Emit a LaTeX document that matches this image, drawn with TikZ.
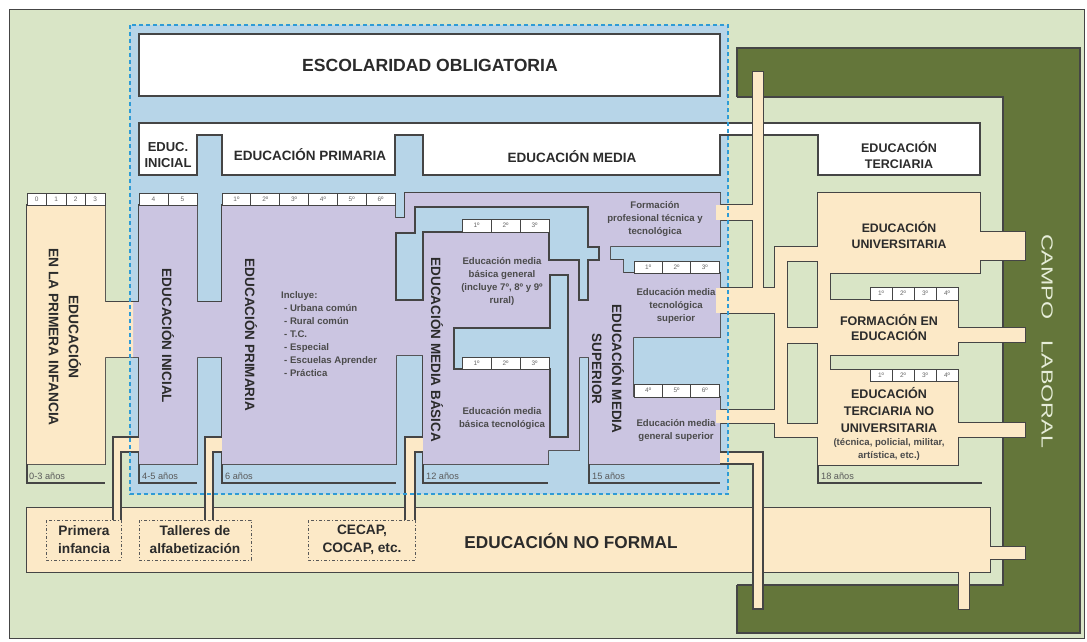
\documentclass[tikz,border=0pt]{standalone}
\usepackage{fontspec}
\setmainfont{Liberation Sans}
\usetikzlibrary{calc}

\definecolor{verdeclaro}{HTML}{D9E5C6}
\definecolor{verdeoscuro}{HTML}{64763A}
\definecolor{azul}{HTML}{B7D5E8}
\definecolor{lila}{HTML}{CBC5E1}
\definecolor{crema}{HTML}{FCE9C7}
\definecolor{linea}{HTML}{454545}
\definecolor{texto}{HTML}{2B2B2B}
\definecolor{punteado}{HTML}{2E9BD6}
\definecolor{campo}{HTML}{E6EDD8}

\tikzset{
  borde/.style={draw=linea, line width=1.2pt},
  dobleborde/.style={draw=linea, line width=2.4pt},
  titulo/.style={font=\bfseries\fontsize{13.5}{17}\selectfont, text=texto, align=center, inner sep=0pt},
  vertical/.style={titulo, rotate=-90},
  chico/.style={font=\bfseries\fontsize{9.6}{13}\selectfont, text=texto!85, align=center, inner sep=0pt},
  grado/.style={font=\fontsize{6.5}{6.5}\selectfont, text=black!60, inner sep=0pt},
  anios/.style={font=\fontsize{9.2}{9.2}\selectfont, text=black!65, anchor=west, inner sep=0pt},
  celda/.style={draw=linea, line width=0.9pt, fill=white},
  nofor/.style={draw=linea!90, line width=1pt, dash dot},
}

% celdas de grados: nombre, x0, y0, ancho, alto, etiquetas
\newcommand{\grados}[6]{%
  \foreach \g [count=\i from 0] in {#6} {
    \draw[celda] ({#2+\i*#4},#3) rectangle ({#2+(\i+1)*#4},{#3+#5});
    \node[grado] (#1-\i) at ({#2+(\i+0.5)*#4},{#3+#5/2}) {\g};
  }}

% red de educacion terciaria (rectangulos que se unen)
\newcommand{\redterciaria}{753/72/763/300, 716/205/758/220, 716/288/787/313,
  775/247/787/437, 775/247/830/261, 818/247/830/372, 818/193/980/273,
  975/232/1025/260, 780/328/830/343, 818/300/958/355, 953/328/1025/342,
  818/370/958/465, 953/423/1025/437, 775/424/830/437, 716/410/787/423}
\newcommand{\rednoformal}{27/508/990/572, 985/547/1025/559, 959/567/969/609}

\begin{document}
\begin{tikzpicture}[x=1pt, y=-1pt]
\useasboundingbox (0,0) rectangle (1087,642);

% marco general
\draw[fill=verdeclaro, draw=linea, line width=1pt] (9,10) rectangle (1084,638);

% campo laboral
\draw[borde, fill=verdeoscuro] (737,48) rectangle (1080,633);
\fill[verdeclaro] (736,97) rectangle (1003,585);
\draw[borde] (737,97) -- (1003,97) -- (1003,585) -- (737,585);

% escolaridad obligatoria
\fill[azul] (130,25) rectangle (728,494);
\draw[borde, fill=white] (139,34) rectangle (720,96);

% cabecera blanca
\draw[borde, fill=white] (139,123) -- (980,123) -- (980,175) -- (818,175) -- (818,135)
  -- (720,135) -- (720,175) -- (423,175) -- (423,135) -- (395,135) -- (395,175)
  -- (222,175) -- (222,135) -- (197,135) -- (197,175) -- (139,175) -- cycle;

% zonas lila y crema: primero los bordes, luego el relleno
\path[save path=\lilapath] (130,302) -- (139,302) -- (139,205) -- (197,205) -- (197,302)
  -- (222,302) -- (222,205) -- (395,205) -- (395,218) -- (405,218) -- (405,193)
  -- (720,193) -- (720,246) -- (610,246) -- (610,260) -- (623,260) -- (623,273)
  -- (720,273) -- (720,337) -- (633,337) -- (633,397) -- (720,397) -- (720,464)
  -- (589,464) -- (589,357) -- (579,357) -- (579,450) -- (548,450) -- (548,464)
  -- (423,464) -- (423,355) -- (396,355) -- (396,464) -- (222,464) -- (222,357)
  -- (197,357) -- (197,464) -- (139,464) -- (139,357) -- (130,357) -- cycle;
\path[save path=\infanciapath] (27,205) -- (105,205) -- (105,302) -- (133,302)
  -- (133,357) -- (105,357) -- (105,464) -- (27,464) -- cycle;

\draw[dobleborde, use path=\lilapath];
\draw[dobleborde, use path=\infanciapath];
\foreach \xa/\ya/\xb/\yb in \redterciaria
  \draw[dobleborde] (\xa,\ya) rectangle (\xb,\yb);
\fill[lila, use path=\lilapath];
\fill[crema, use path=\infanciapath];
\foreach \xa/\ya/\xb/\yb in \redterciaria
  \fill[crema] (\xa,\ya) rectangle (\xb,\yb);

% huecos azules dentro de media
\draw[borde, fill=azul] (415,207) -- (588,207) -- (588,247) -- (599,247) -- (599,260)
  -- (588,260) -- (588,300) -- (579,300) -- (579,260) -- (549,260) -- (549,232)
  -- (423,232) -- (423,300) -- (396,300) -- (396,233) -- (415,233) -- cycle;
\draw[borde, fill=azul] (454,328) -- (550,328) -- (550,275) -- (568,275) -- (568,437)
  -- (550,437) -- (550,369) -- (454,369) -- cycle;

% grados
\grados{gpi}{27}{193}{19.5}{12}{0,1,2,3}
\grados{gin}{139}{193}{29}{12}{4,5}
\grados{gpr}{222}{193}{28.83}{12}{1º,2º,3º,4º,5º,6º}
\grados{gmb}{462}{219}{29}{13}{1º,2º,3º}
\grados{gmt}{462}{357}{29}{12}{1º,2º,3º}
\grados{gms}{634}{261}{28.33}{12}{1º,2º,3º}
\grados{gmg}{634}{384}{28.33}{13}{4º,5º,6º}
\grados{gfe}{870}{287}{22}{13}{1º,2º,3º,4º}
\grados{gtn}{870}{369}{22}{12}{1º,2º,3º,4º}

% edades
\draw[borde] (27,464) -- (27,483) -- (105,483);
\draw[borde] (139,464) -- (139,483) -- (197,483);
\draw[borde] (222,464) -- (222,483) -- (396,483);
\draw[borde] (423,464) -- (423,483) -- (548,483);
\draw[borde] (589,464) -- (589,483) -- (720,483);
\draw[borde] (818,465) -- (818,483) -- (982,483);
\node[anios] (a1) at (29,476) {0-3 años};
\node[anios] (a2) at (142,476) {4-5 años};
\node[anios] (a3) at (225,476) {6 años};
\node[anios] (a4) at (426,476) {12 años};
\node[anios] (a5) at (592,476) {15 años};
\node[anios] (a6) at (821,476) {18 años};

% educacion no formal
\foreach \xa/\ya/\xb/\yb in \rednoformal
  \draw[dobleborde] (\xa,\ya) rectangle (\xb,\yb);
\foreach \xa/\ya/\xb/\yb in \rednoformal
  \fill[crema] (\xa,\ya) rectangle (\xb,\yb);

% conductos hacia abajo
\draw[borde, fill=crema] (720,452) -- (763,452) -- (763,609) -- (753,609) -- (753,464) -- (720,464);
\foreach \xa/\xb/\xc in {113/121/139, 205/213/222, 405/415/423} {
  \fill[crema] (\xa,437) rectangle (\xc+0.3,452);
  \fill[crema] (\xa,437) rectangle (\xb,520);
  \draw[borde] (\xa,520) -- (\xa,437) -- (\xc,437);
  \draw[borde] (\xb,520) -- (\xb,452) -- (\xc,452);
}
\draw[nofor] (46,520) rectangle (121,560);
\draw[nofor] (139,520) rectangle (251,560);
\draw[nofor] (308,520) rectangle (415,560);

% textos
\node[titulo, font=\bfseries\fontsize{17.6}{18}\selectfont] (escol) at (430,65) {ESCOLARIDAD OBLIGATORIA};
\node[titulo, font=\bfseries\fontsize{13}{16.5}\selectfont] (educini) at (168,155) {EDUC.\\INICIAL};
\node[titulo] (edupri) at (310,155) {EDUCACIÓN PRIMARIA};
\node[titulo] (edumed) at (572,157) {EDUCACIÓN MEDIA};
\node[titulo, font=\bfseries\fontsize{12.5}{16.5}\selectfont] (eduter) at (899,155) {EDUCACIÓN\\TERCIARIA};

\node[vertical, font=\bfseries\fontsize{13.8}{20}\selectfont] (vpi) at (65,337) {EDUCACIÓN\\EN LA PRIMERA INFANCIA};
\node[vertical] (vini) at (168,336) {EDUCACIÓN INICIAL};
\node[vertical] (vpri) at (251,335) {EDUCACIÓN PRIMARIA};
\node[vertical] (vmb) at (437,350) {EDUCACIÓN MEDIA BÁSICA};
\node[vertical, font=\bfseries\fontsize{13.5}{20}\selectfont] (vms) at (608,369) {EDUCACIÓN MEDIA\\SUPERIOR};

\node[chico, align=left, anchor=north west] (incl) at (281,291)
  {Incluye:\\\hspace{3pt}- Urbana común\\\hspace{3pt}- Rural común\\\hspace{3pt}- T.C.\\\hspace{3pt}- Especial\\\hspace{3pt}- Escuelas Aprender\\\hspace{3pt}- Práctica};
\node[chico] (mbg) at (502,281) {Educación media\\básica general\\(incluye 7º, 8º y 9º\\rural)};
\node[chico] (mbt) at (502,418) {Educación media\\básica tecnológica};
\node[chico] (fpt) at (655,219) {Formación\\profesional técnica y\\tecnológica};
\node[chico] (mts) at (676,306) {Educación media\\tecnológica\\superior};
\node[chico] (mgs) at (676,430) {Educación media\\general superior};

\node[titulo, font=\bfseries\fontsize{12.3}{16}\selectfont] (univ) at (899,235) {EDUCACIÓN\\UNIVERSITARIA};
\node[titulo, font=\bfseries\fontsize{12.5}{15}\selectfont] (fored) at (889,328) {FORMACIÓN EN\\EDUCACIÓN};
\node[titulo, font=\bfseries\fontsize{12.5}{17}\selectfont] (terno) at (889,410) {EDUCACIÓN\\TERCIARIA NO\\UNIVERSITARIA};
\node[chico] (ternosub) at (889,449.5) {(técnica, policial, militar,\\artística, etc.)};

\node[rotate=-90, text=campo, inner sep=0pt, font=\fontsize{16}{16}\selectfont] (campolab) at (1047,341)
  {\scalebox{1.45}[1]{CAMPO\hspace{15pt}LABORAL}};

\node[titulo, font=\bfseries\fontsize{17.2}{18}\selectfont] (nof) at (571,541) {EDUCACIÓN NO FORMAL};
\node[titulo, font=\bfseries\fontsize{13.7}{18}\selectfont] (pinf) at (84,540) {Primera\\infancia};
\node[titulo, font=\bfseries\fontsize{13.7}{18}\selectfont] (talleres) at (195,540) {Talleres de\\alfabetización};
\node[titulo, font=\bfseries\fontsize{13.7}{18}\selectfont] (cecap) at (362,540) {CECAP,\\COCAP, etc.};

% borde punteado de la escolaridad obligatoria
\draw[punteado, line width=1.3pt, dash pattern=on 4pt off 3pt] (130,25) rectangle (728,494);
\end{tikzpicture}
\end{document}
